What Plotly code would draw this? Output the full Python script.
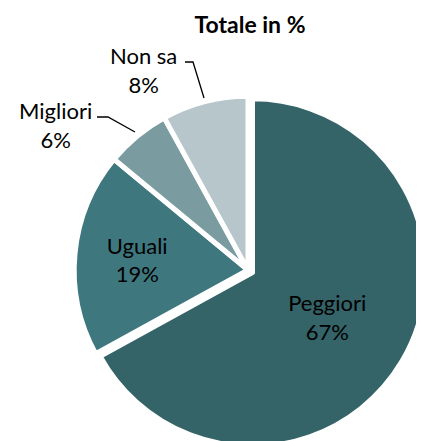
import plotly.graph_objects as go

# data
labels = ["Peggiori", "Uguali", "Migliori", "Non sa"]
values = [67, 19, 6, 8]
colors = ["#346368", "#3e787e", "#7a9ca0", "#b6c6ca"]
pulls = [0.03, 0, 0, 0]
title_text = "<b>Totale in %</b>"

W, H = 424, 441
OFF = 8  # page body margin
FONT = "Lato"


def px(x, y):
    # visible pixel -> paper coords
    return (x - OFF) / W, 1 - (y - OFF) / H


fig = go.Figure()
fig.add_trace(go.Pie(
    labels=labels, values=values,
    sort=False, direction="clockwise", rotation=0,
    pull=pulls,
    marker=dict(colors=colors, line=dict(color="white", width=5)),
    texttemplate=["%{label}<br>%{value}%", "%{label}<br>%{value}%", "", ""],
    textposition="inside",
    insidetextorientation="horizontal",
    textfont=dict(family=FONT, size=22, color="black"),
    domain=dict(x=[61 / W, 419 / W], y=[0.0, 358 / H]),
    hoverinfo="label+percent",
    showlegend=False,
))

# labels outside the pie, with elbow leader lines
for txt, (tx, ty) in [("Non sa<br>8%", (143, 70)), ("Migliori<br>6%", (55, 125))]:
    ax_, ay_ = px(tx, ty)
    fig.add_annotation(x=ax_, y=ay_, xref="paper", yref="paper",
                       xanchor="center", yanchor="middle",
                       text=txt, showarrow=False,
                       font=dict(family=FONT, size=22, color="black"))


def path(pts):
    s = []
    for i, (x, y) in enumerate(pts):
        a, b = px(x, y)
        s.append(("M" if i == 0 else "L") + f" {a} {b}")
    return " ".join(s)


fig.add_shape(type="path", xref="paper", yref="paper",
              path=path([(185, 62), (193, 62), (204, 98)]),
              line=dict(color="black", width=1.3))
fig.add_shape(type="path", xref="paper", yref="paper",
              path=path([(97, 117), (108, 117), (135, 132)]),
              line=dict(color="black", width=1.3))

tx, ty = px(250, 25)
fig.update_layout(
    width=W, height=H,
    margin=dict(l=0, r=0, t=0, b=0),
    paper_bgcolor="white",
    title=dict(text=title_text, x=tx, xanchor="center",
               y=ty, yanchor="middle", yref="container",
               font=dict(family=FONT, size=23, color="black")),
)

fig.write_html("out.html")
